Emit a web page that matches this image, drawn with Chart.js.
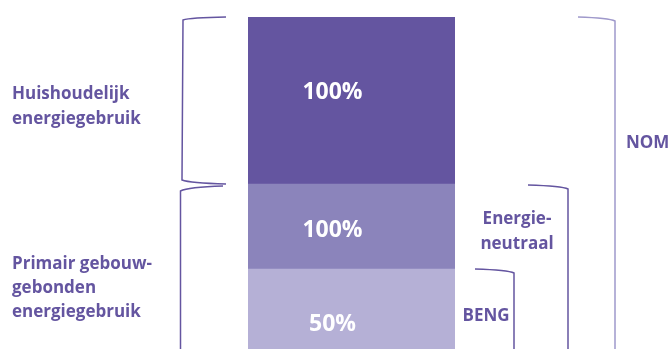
<!DOCTYPE html>
<html>
<head>
<meta charset="utf-8">
<script src="https://cdn.jsdelivr.net/npm/chart.js@4.4.0/dist/chart.umd.min.js"></script>
<style>
  html, body { margin: 0; padding: 0; background: #fff; }
  #wrap { width: 669px; height: 349px; }
</style>
</head>
<body>
<div id="wrap"><canvas id="chart"></canvas></div>
<script>
// segment sizes (bottom -> top), the picture is cropped at the bottom
const segmentNames = ["BENG", "Energieneutraal", "Huishoudelijk"];
const segmentSizes = [112, 85, 167];
const segmentLabels = ["50%", "100%", "100%"];
const segmentColors = ["#b5b0d6", "#8b84bb", "#6455a0"];
const axisMin = 32;

const purple = "#6455a0";
const textFont = "bold 17px 'Open Sans'";

// label nudges so the numbers sit where the original puts them
const labelNudge = [-1, 4, -8];

const valueLabels = {
    id: "valueLabels",
    afterDatasetsDraw(chart) {
        const ctx = chart.ctx;
        ctx.save();
        ctx.fillStyle = "#fff";
        ctx.font = "bold 23px 'Open Sans'";
        ctx.textAlign = "center";
        ctx.textBaseline = "middle";
        chart.data.datasets.forEach((ds, i) => {
            const bar = chart.getDatasetMeta(i).data[0];
            const y = (bar.y + bar.base) / 2 + labelNudge[i];
            ctx.fillText(segmentLabels[i], bar.x - 19, y);
        });
        ctx.restore();
    }
};

// braces and side texts
const braces = {
    id: "braces",
    afterDraw(chart) {
        const ctx = chart.ctx;
        const y = chart.scales.y;
        const bottom = chart.height;
        const yTop = y.getPixelForValue(segmentSizes[0] + segmentSizes[1] + segmentSizes[2]);
        const yMid = y.getPixelForValue(segmentSizes[0] + segmentSizes[1]);
        const yLow = y.getPixelForValue(segmentSizes[0]);

        ctx.save();
        ctx.lineWidth = 1.5;
        ctx.strokeStyle = purple;

        // left brace, top segment
        ctx.beginPath();
        ctx.moveTo(226, yTop);
        ctx.quadraticCurveTo(190, yTop + 0.5, 183, yTop + 3);
        ctx.lineTo(182, yMid - 4);
        ctx.quadraticCurveTo(190, yMid - 1, 226, yMid);
        ctx.stroke();

        // left brace, lower part
        ctx.beginPath();
        ctx.moveTo(223, yMid + 2);
        ctx.quadraticCurveTo(188, yMid + 3, 180.5, yMid + 7);
        ctx.lineTo(180.5, bottom);
        ctx.stroke();

        // right brackets
        const right = [
            [475, 514, yLow],
            [528, 568, yMid + 1],
        ];
        right.forEach(([x0, x1, yy]) => {
            ctx.beginPath();
            ctx.moveTo(x0, yy);
            ctx.quadraticCurveTo(x1 - 6, yy + 1, x1, yy + 4);
            ctx.lineTo(x1, bottom);
            ctx.stroke();
        });

        ctx.strokeStyle = "#9f99cb";
        ctx.beginPath();
        ctx.moveTo(578, yTop);
        ctx.quadraticCurveTo(609, yTop + 1, 615, yTop + 4);
        ctx.lineTo(615, bottom);
        ctx.stroke();

        // texts
        ctx.fillStyle = purple;
        ctx.font = textFont;
        ctx.textBaseline = "alphabetic";
        ctx.textAlign = "left";
        ctx.fillText("Huishoudelijk", 12, 99);
        ctx.fillText("energiegebruik", 12, 124);
        ctx.fillText("Primair gebouw-", 12, 269);
        ctx.fillText("gebonden", 12, 293);
        ctx.fillText("energiegebruik", 12, 317);

        ctx.textAlign = "center";
        ctx.fillText("Energie-", 517, 224);
        ctx.fillText("neutraal", 517, 249);
        ctx.fillText("BENG", 486, 321);
        ctx.textAlign = "left";
        ctx.fillText("NOM", 626, 148);
        ctx.restore();
    }
};

new Chart(document.getElementById("chart"), {
    type: "bar",
    data: {
        labels: [""],
        datasets: segmentNames.map((name, i) => ({
            label: name,
            data: [segmentSizes[i]],
            backgroundColor: segmentColors[i],
            borderWidth: 0,
            categoryPercentage: 1,
            barPercentage: 1,
        })),
    },
    plugins: [valueLabels, braces],
    options: {
        responsive: true,
        maintainAspectRatio: false,
        animation: false,
        layout: { padding: { left: 248, right: 214, top: 17, bottom: 0 } },
        plugins: {
            legend: { display: false },
            tooltip: { enabled: false },
        },
        scales: {
            x: { stacked: true, display: false },
            y: {
                stacked: true,
                display: false,
                min: axisMin,
                max: axisMin + 332,
            },
        },
    },
});
</script>
</body>
</html>
